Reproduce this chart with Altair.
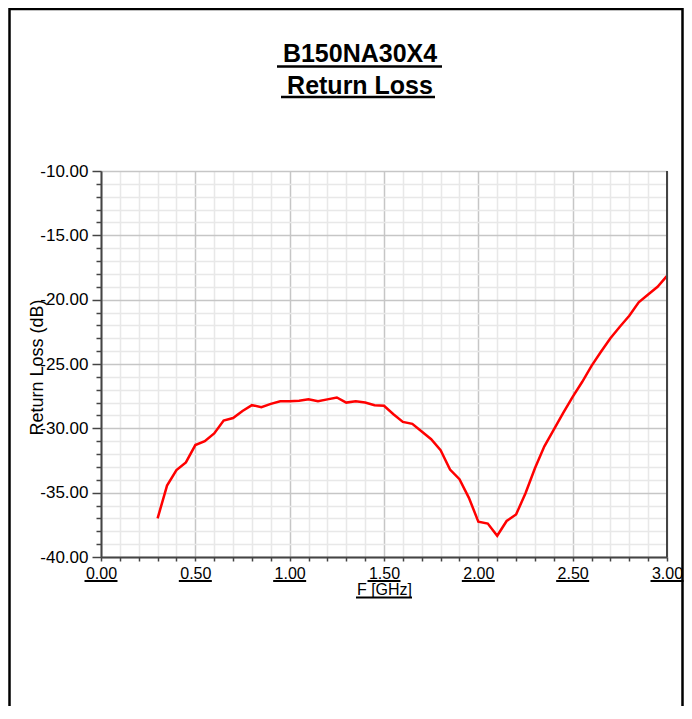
import altair as alt
import pandas as pd

# ---- data ----
freq_ghz = [0.30, 0.35, 0.40, 0.45, 0.50, 0.55, 0.60, 0.65, 0.70, 0.75,
            0.80, 0.85, 0.90, 0.95, 1.00, 1.05, 1.10, 1.15, 1.20, 1.25,
            1.30, 1.35, 1.40, 1.45, 1.50, 1.55, 1.60, 1.65, 1.70, 1.75,
            1.80, 1.85, 1.90, 1.95, 2.00, 2.05, 2.10, 2.15, 2.20, 2.25,
            2.30, 2.35, 2.40, 2.45, 2.50, 2.55, 2.60, 2.65, 2.70, 2.75,
            2.80, 2.85, 2.90, 2.95, 3.00]
return_loss_db = [-37.0, -34.45, -33.25, -32.65, -31.3, -31.0, -30.4, -29.4, -29.2, -28.65,
                  -28.2, -28.35, -28.1, -27.9, -27.9, -27.85, -27.75, -27.9, -27.75, -27.6,
                  -28.0, -27.9, -28.0, -28.2, -28.25, -28.9, -29.5, -29.65, -30.25, -30.85,
                  -31.7, -33.2, -33.95, -35.4, -37.25, -37.4, -38.35, -37.2, -36.7, -35.05,
                  -33.1, -31.4, -30.1, -28.8, -27.55, -26.4, -25.15, -24.05, -23.0, -22.1,
                  -21.25, -20.2, -19.6, -19.0, -18.15]

x_tick_values = [round(i * 0.1, 1) for i in range(31)]
x_label_values = [0.0, 0.5, 1.0, 1.5, 2.0, 2.5, 3.0]
y_tick_values = list(range(-40, -9))
title_line1 = "B150NA30X4"
title_line2 = "Return Loss"
x_title = "F [GHz]"
y_title = "Return Loss (dB)"

W, H = 566, 386
FONT = "Liberation Sans"
AX = "#444444"

df = pd.DataFrame({"f": freq_ghz, "rl": return_loss_db})
xscale = alt.Scale(domain=[0, 3], nice=False, zero=False)
yscale = alt.Scale(domain=[-40, -10], nice=False, zero=False)

x_major = "abs(datum.value*2 - round(datum.value*2)) < 0.000001"
y_major = "abs(datum.value % 5) < 0.000001"

x_axis = alt.Axis(
    values=x_tick_values,
    labelExpr=f"({x_major}) ? format(datum.value, '.2f') : ''",
    labelOverlap=False, labelFlush=False, labelBound=False,
    labelFont=FONT, labelFontSize=16, labelColor="black",
    labelBaseline="alphabetic", labelPadding=17,
    tickSize=4, tickColor=AX, tickWidth=1.5,
    domainColor=AX, domainWidth=2,
    grid=True,
    gridColor={"condition": {"test": x_major, "value": "#c6c6c6"}, "value": "#e8e8e8"},
    gridWidth=1.5,
    title=x_title, titleFont=FONT, titleFontSize=16, titleFontWeight="normal",
    titleColor="black", titleBaseline="alphabetic", titleY=37,
)
y_axis = alt.Axis(
    values=y_tick_values,
    labelExpr=f"({y_major}) ? ((datum.value < 0 ? '-' : '') + format(abs(datum.value), '.2f')) : ''",
    labelOverlap=False, labelFlush=False, labelBound=False,
    labelFont=FONT, labelFontSize=17, labelColor="black", labelPadding=4,
    tickSize={"condition": {"test": y_major, "value": 9}, "value": 5},
    tickColor=AX, tickWidth=1.5,
    domainColor=AX, domainWidth=2,
    grid=True,
    gridColor={"condition": {"test": y_major, "value": "#c6c6c6"}, "value": "#e8e8e8"},
    gridWidth=1.5,
    title=y_title, titleFont=FONT, titleFontSize=18, titleFontWeight="normal",
    titleColor="black", titleBaseline="alphabetic", titleX=-59, titleY=196,
)

line = alt.Chart(df).mark_line(color="#ff0000", strokeWidth=2.5).encode(
    x=alt.X("f:Q", scale=xscale, axis=x_axis),
    y=alt.Y("rl:Q", scale=yscale, axis=y_axis),
)

label_underlines = alt.Chart(pd.DataFrame({"v": x_label_values})).mark_rule(
    color="black", strokeWidth=2, xOffset=-16.5, x2Offset=16.5
).encode(
    x=alt.X("v:Q", scale=xscale, axis=x_axis),
    x2="v:Q",
    y=alt.value(410),
)

one = alt.Data(values=[{"k": 1}])

right_border = alt.Chart(one).mark_rule(color=AX, strokeWidth=2).encode(
    x=alt.value(W), y=alt.value(0), y2=alt.value(H))

frame = alt.Chart(one).mark_rect(fillOpacity=0, stroke="black", strokeWidth=2.5).encode(
    x=alt.value(-91.5), x2=alt.value(581.5), y=alt.value(-162), y2=alt.value(560))

t1 = alt.Chart(one).mark_text(text=title_line1, font=FONT, fontSize=25, fontWeight="bold",
                              align="center", baseline="alphabetic", color="black").encode(
    x=alt.value(259), y=alt.value(-109.5))
t2 = alt.Chart(one).mark_text(text=title_line2, font=FONT, fontSize=25, fontWeight="bold",
                              align="center", baseline="alphabetic", color="black").encode(
    x=alt.value(259), y=alt.value(-77.5))
u1 = alt.Chart(one).mark_rule(color="black", strokeWidth=2.5).encode(
    x=alt.value(176), x2=alt.value(341), y=alt.value(-104.5))
u2 = alt.Chart(one).mark_rule(color="black", strokeWidth=2.5).encode(
    x=alt.value(180), x2=alt.value(334), y=alt.value(-74))
ux = alt.Chart(one).mark_rule(color="black", strokeWidth=2).encode(
    x=alt.value(255), x2=alt.value(311), y=alt.value(426.5))

chart = alt.layer(
    line, label_underlines, right_border, frame, t1, t2, u1, u2, ux
).properties(
    width=W, height=H,
    padding={"left": 93, "top": 163, "right": 17, "bottom": 149},
    autosize=alt.AutoSizeParams(type="none"),
    background="white",
).configure_view(stroke="#777777", strokeWidth=1)

chart.save("out.html", embed_options={"renderer": "svg", "actions": False})
